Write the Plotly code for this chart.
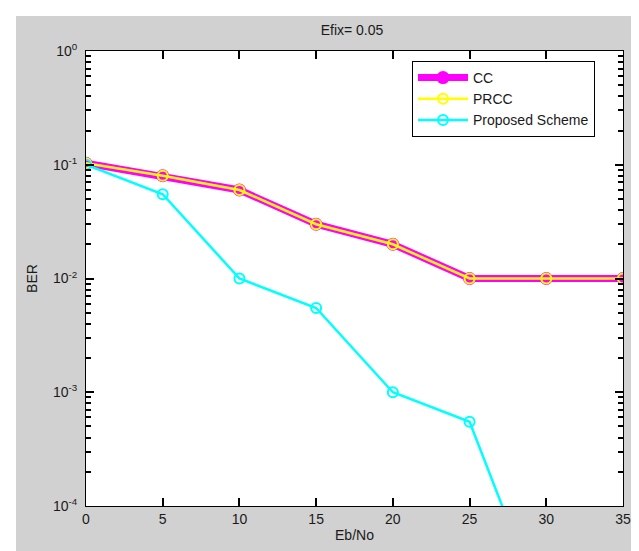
import plotly.graph_objects as go

ebno = [0, 5, 10, 15, 20, 25, 30, 35]
cc = [0.103, 0.08, 0.06, 0.03, 0.02, 0.01, 0.01, 0.01]
prcc = [0.103, 0.08, 0.06, 0.03, 0.02, 0.01, 0.01, 0.01]
ebno_prop = [0, 5, 10, 15, 20, 25, 30]
proposed = [0.1, 0.055, 0.01, 0.0055, 0.001, 0.00055, 0.00001]

y_tickvals = [1e-4, 1e-3, 1e-2, 1e-1, 1e0]
y_ticktext = ["10<sup>-4</sup>", "10<sup>-3</sup>", "10<sup>-2</sup>", "10<sup>-1</sup>", "10<sup>0</sup>"]
x_tickvals = [0, 5, 10, 15, 20, 25, 30, 35]
minor_mantissas = [2, 3, 4, 5, 6, 7, 8, 9]
decades = [-4, -3, -2, -1]

title_text = "Efix= 0.05"
x_title = "Eb/No"
y_title = "BER"

FONT = "Liberation Sans, Arial, Helvetica, sans-serif"
GRAY = "#d1d1d1"
TXT = "#1a1a1a"

minor_vals = [m * 10.0 ** e for e in decades for m in minor_mantissas]

fig = go.Figure()
fig.add_trace(go.Scatter(
    x=ebno, y=cc, name="CC", mode="lines+markers",
    line=dict(color="#ff00ff", width=7),
    marker=dict(symbol="circle", size=13, color="#ff00ff"),
))
fig.add_trace(go.Scatter(
    x=ebno, y=prcc, name="PRCC", mode="lines+markers",
    line=dict(color="#ffff00", width=2.5),
    marker=dict(symbol="circle-open", size=10, color="#ffff00", line=dict(width=2)),
))
fig.add_trace(go.Scatter(
    x=ebno_prop, y=proposed, name="Proposed Scheme", mode="lines+markers",
    line=dict(color="#00ffff", width=2.5),
    marker=dict(symbol="circle-open", size=10, color="#00ffff", line=dict(width=2)),
))

W, H = 639, 551
L, R, T, B = 78, 639 - 615, 43, 551 - 498
pw, ph = W - L - R, H - T - B

fig.update_layout(
    width=W, height=H,
    margin=dict(l=L, r=R, t=T, b=B, pad=0),
    paper_bgcolor=GRAY,
    plot_bgcolor="white",
    font=dict(family=FONT, size=14, color=TXT),
    title=dict(text=title_text, x=(344 - L) / pw, xref="paper", xanchor="center",
               y=1 - 22 / H, yanchor="middle", yref="container",
               font=dict(size=14, family=FONT, color=TXT)),
    showlegend=True,
    legend=dict(
        x=(404 - L) / pw, y=(498 - 53) / ph, xanchor="left", yanchor="top",
        bgcolor="white", bordercolor="black", borderwidth=1,
        font=dict(size=14, family=FONT, color=TXT),
        itemwidth=50, tracegroupgap=0,
    ),
    xaxis=dict(
        range=[0, 35], tickvals=x_tickvals,
        showline=True, linecolor="black", linewidth=1, mirror="allticks",
        ticks="inside", ticklen=8, tickwidth=2, tickcolor="black",
        showgrid=False, zeroline=False,
        title=dict(text=x_title, standoff=4, font=dict(size=14)),
        tickfont=dict(size=14),
    ),
    yaxis=dict(
        type="log", range=[-4, 0], tickvals=y_tickvals, ticktext=y_ticktext,
        showline=True, linecolor="black", linewidth=1, mirror="allticks",
        ticks="inside", ticklen=8, tickwidth=2, tickcolor="black",
        minor=dict(tickvals=minor_vals, ticks="inside", ticklen=5, tickwidth=1.5,
                   tickcolor="black", showgrid=False),
        showgrid=False, zeroline=False,
        ticklabelstandoff=5,
        title=dict(text=y_title, standoff=12, font=dict(size=14)),
        tickfont=dict(size=14),
    ),
)

# white border strips (top and left) outside the gray figure area
fig.add_shape(type="rect", xref="paper", yref="paper",
              x0=-L / pw - 0.01, x1=(W - L) / pw + 0.01,
              y0=(H - B) / ph - 8 / ph, y1=(H - B) / ph + 0.01,
              fillcolor="white", line=dict(width=0), layer="above")
fig.add_shape(type="rect", xref="paper", yref="paper",
              x0=-L / pw - 0.01, x1=-L / pw + 8 / pw,
              y0=-B / ph - 0.01, y1=(H - B) / ph + 0.01,
              fillcolor="white", line=dict(width=0), layer="above")

fig.write_html("out.html")
